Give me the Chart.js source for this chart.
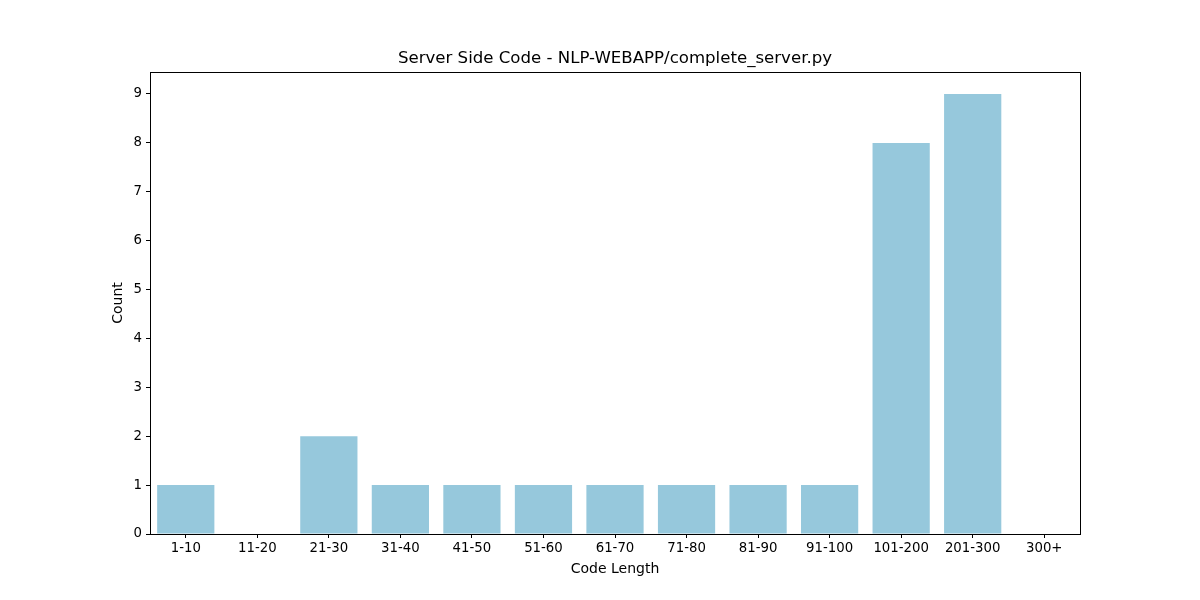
<!DOCTYPE html>
<html>
<head>
<meta charset="utf-8">
<title>Server Side Code</title>
<script src="https://cdn.jsdelivr.net/npm/chart.js@4/dist/chart.umd.min.js"></script>
<style>
  html, body { margin: 0; padding: 0; background: #fff; }
  #wrap { width: 1200px; height: 600px; position: relative; }
</style>
</head>
<body>
<div id="wrap"><canvas id="codeChart"></canvas></div>
<script>
// ── chart data ──
const categories = ['1-10', '11-20', '21-30', '31-40', '41-50', '51-60', '61-70',
                    '71-80', '81-90', '91-100', '101-200', '201-300', '300+'];
const counts = [1, 0, 2, 1, 1, 1, 1, 1, 1, 1, 8, 9, 0];
const yTicks = [0, 1, 2, 3, 4, 5, 6, 7, 8, 9];

const titleText = 'Server Side Code - NLP-WEBAPP/complete_server.py';
const xTitle = 'Code Length';
const yTitle = 'Count';

const FONT = 'DejaVu Sans';

// frame + titles placed around the plot area (matplotlib style)
const frameBox = {
  id: 'frameBox',
  afterDraw(chart) {
    const { ctx, chartArea: a } = chart;
    const cx = (a.left + a.right) / 2;
    ctx.save();
    ctx.strokeStyle = '#000';
    ctx.lineWidth = 1;
    ctx.strokeRect(a.left + 0.5, a.top + 0.5, a.right - a.left, a.bottom - a.top);

    ctx.fillStyle = '#000';
    ctx.textAlign = 'center';
    ctx.textBaseline = 'middle';
    ctx.font = '16.6px "' + FONT + '"';
    ctx.fillText(titleText, cx, a.top - 13);

    ctx.font = '14px "' + FONT + '"';
    ctx.fillText(xTitle, cx, a.bottom + 35);

    ctx.translate(a.left - 32, (a.top + a.bottom) / 2);
    ctx.rotate(-Math.PI / 2);
    ctx.fillText(yTitle, 0, 0);
    ctx.restore();
  }
};

new Chart(document.getElementById('codeChart'), {
  type: 'bar',
  data: {
    labels: categories,
    datasets: [{
      label: 'Count',
      data: counts,
      backgroundColor: '#96c8dc',
      borderWidth: 0,
      barPercentage: 0.8,
      categoryPercentage: 1.0
    }]
  },
  options: {
    responsive: true,
    maintainAspectRatio: false,
    animation: false,
    layout: { padding: { left: 0, right: 120, top: 72, bottom: 0 } },
    plugins: {
      legend: { display: false },
      tooltip: { enabled: false },
      title: { display: false }
    },
    scales: {
      x: {
        offset: true,
        grid: { display: true, drawOnChartArea: false, offset: false, tickLength: 4, color: '#000' },
        border: { display: false },
        ticks: { color: '#000', font: { family: FONT, size: 13.3 }, padding: 3, maxRotation: 0, autoSkip: false },
        afterFit: (s) => { s.height = 66; }
      },
      y: {
        min: 0,
        max: 9.45,
        afterBuildTicks: (s) => { s.ticks = yTicks.map(v => ({ value: v })); },
        grid: { display: true, drawOnChartArea: false, tickLength: 4, color: '#000' },
        border: { display: false },
        ticks: { color: '#000', font: { family: FONT, size: 13.3 }, padding: 4 },
        afterFit: (s) => { s.width = 150; }
      }
    }
  },
  plugins: [frameBox]
});
</script>
</body>
</html>
